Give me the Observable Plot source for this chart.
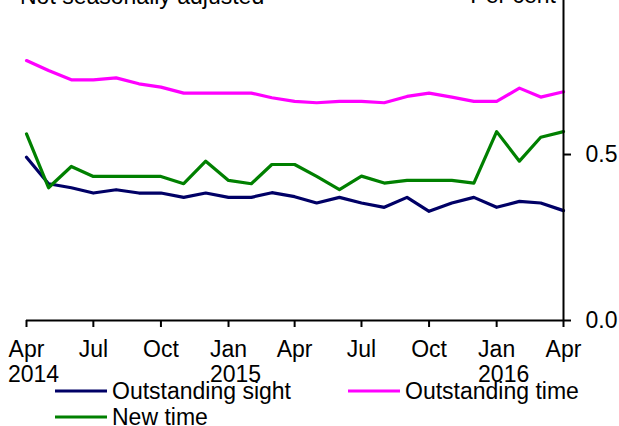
<!DOCTYPE html>
<html>
<head>
<meta charset="utf-8">
<script src="https://cdn.jsdelivr.net/npm/d3@7"></script>
<script src="https://cdn.jsdelivr.net/npm/@observablehq/plot@0.6"></script>
<style>
  html, body { margin: 0; padding: 0; background: #fff; }
  #wrap { position: relative; width: 619px; height: 426px; overflow: hidden; font-family: "Liberation Sans", Arial, sans-serif; }
  #wrap svg { position: absolute; left: 0; top: 0; }
</style>
</head>
<body>
<div id="wrap"></div>
<script>
// ---- data ----
const months = ["2014-04","2014-05","2014-06","2014-07","2014-08","2014-09","2014-10","2014-11","2014-12",
  "2015-01","2015-02","2015-03","2015-04","2015-05","2015-06","2015-07","2015-08","2015-09","2015-10",
  "2015-11","2015-12","2016-01","2016-02","2016-03","2016-04"];
const outstandingSight = [0.492,0.412,0.400,0.384,0.394,0.384,0.384,0.371,0.384,0.371,0.371,0.385,0.373,
  0.354,0.371,0.354,0.341,0.371,0.329,0.354,0.371,0.341,0.359,0.354,0.331];
const outstandingTime = [0.783,0.753,0.725,0.725,0.731,0.713,0.703,0.685,0.685,0.685,0.685,0.671,0.660,
  0.656,0.660,0.660,0.656,0.675,0.685,0.673,0.660,0.660,0.700,0.673,0.689];
const newTime = [0.562,0.400,0.464,0.434,0.434,0.434,0.434,0.412,0.480,0.422,0.412,0.470,0.470,
  0.434,0.394,0.435,0.414,0.422,0.422,0.422,0.414,0.569,0.480,0.552,0.569];
const seriesNames = ["Outstanding sight", "Outstanding time", "New time"];
const seriesColors = ["#000066", "#ff00ff", "#008000"];
const tickMonths = ["2014-04","2014-07","2014-10","2015-01","2015-04","2015-07","2015-10","2016-01","2016-04"];
const tickLabels = ["Apr","Jul","Oct","Jan","Apr","Jul","Oct","Jan","Apr"];
const yearMonths = ["2014-04","2015-01","2016-01"];
const yearLabels = ["2014","2015","2016"];
const yTicks = [0, 0.5];

const parse = s => new Date(s + "-01T00:00:00Z");
const rows = [];
[outstandingSight, outstandingTime, newTime].forEach((vals, k) => {
  vals.forEach((v, i) => rows.push({date: parse(months[i]), value: v, series: seriesNames[k]}));
});
const tickDates = tickMonths.map(parse);
const labelByTime = new Map(tickDates.map((d, i) => [+d, tickLabels[i]]));
const years = yearMonths.map((m, i) => ({date: parse(m), label: yearLabels[i]}));

const start = parse(months[0]), end = parse(months[months.length - 1]);

const chart = Plot.plot({
  width: 619, height: 426,
  marginLeft: 26, marginRight: 56, marginTop: 0, marginBottom: 106,
  style: {fontFamily: "'Liberation Sans', Arial, sans-serif", fontSize: "23px", color: "#000", background: "transparent"},
  x: {type: "utc", domain: [start, end]},
  y: {domain: [0, 0.964]},
  color: {domain: seriesNames, range: seriesColors},
  marks: [
    Plot.line(rows, {x: "date", y: "value", z: "series", stroke: "series", strokeWidth: 3.2, strokeLinejoin: "round"}),
    Plot.ruleY([0], {stroke: "#000", strokeWidth: 2}),
    Plot.ruleX([end], {stroke: "#000", strokeWidth: 2}),
    Plot.axisX({ticks: tickDates, tickFormat: d => labelByTime.get(+d), tickSize: 7, tickPadding: 13, strokeWidth: 2, label: null, fontSize: 23}),
    Plot.text(years, {x: "date", text: "label", frameAnchor: "bottom", lineAnchor: "top", dy: 45, dx: 7, fontSize: 23, fill: "#000"}),
    Plot.axisY({anchor: "right", ticks: yTicks, tickFormat: d3.format(".1f"), tickSize: 7, tickPadding: 15, strokeWidth: 2, label: null, fontSize: 23})
  ]
});
const wrap = document.getElementById("wrap");
wrap.appendChild(chart);

// ---- titles & legend overlay ----
const ns = "http://www.w3.org/2000/svg";
const ov = document.createElementNS(ns, "svg");
ov.setAttribute("width", 619); ov.setAttribute("height", 426);
ov.setAttribute("font-family", "'Liberation Sans', Arial, sans-serif");
ov.setAttribute("font-size", "23");
function txt(s, x, y, anchor) {
  const t = document.createElementNS(ns, "text");
  t.setAttribute("x", x); t.setAttribute("y", y);
  if (anchor) t.setAttribute("text-anchor", anchor);
  t.textContent = s; ov.appendChild(t);
}
function ln(x1, x2, y, c) {
  const l = document.createElementNS(ns, "line");
  l.setAttribute("x1", x1); l.setAttribute("x2", x2); l.setAttribute("y1", y); l.setAttribute("y2", y);
  l.setAttribute("stroke", c); l.setAttribute("stroke-width", 3.2); ov.appendChild(l);
}
txt("Not seasonally adjusted", 20, 4);
txt("Per cent", 556, 3, "end");
const legendPos = [[55, 391], [348, 391], [55, 417]];
seriesNames.forEach((name, i) => {
  const [x, y] = legendPos[i];
  ln(x, x + 52, y, seriesColors[i]);
  txt(name, x + 57, y + 7.5);
});
wrap.appendChild(ov);
</script>
</body>
</html>
